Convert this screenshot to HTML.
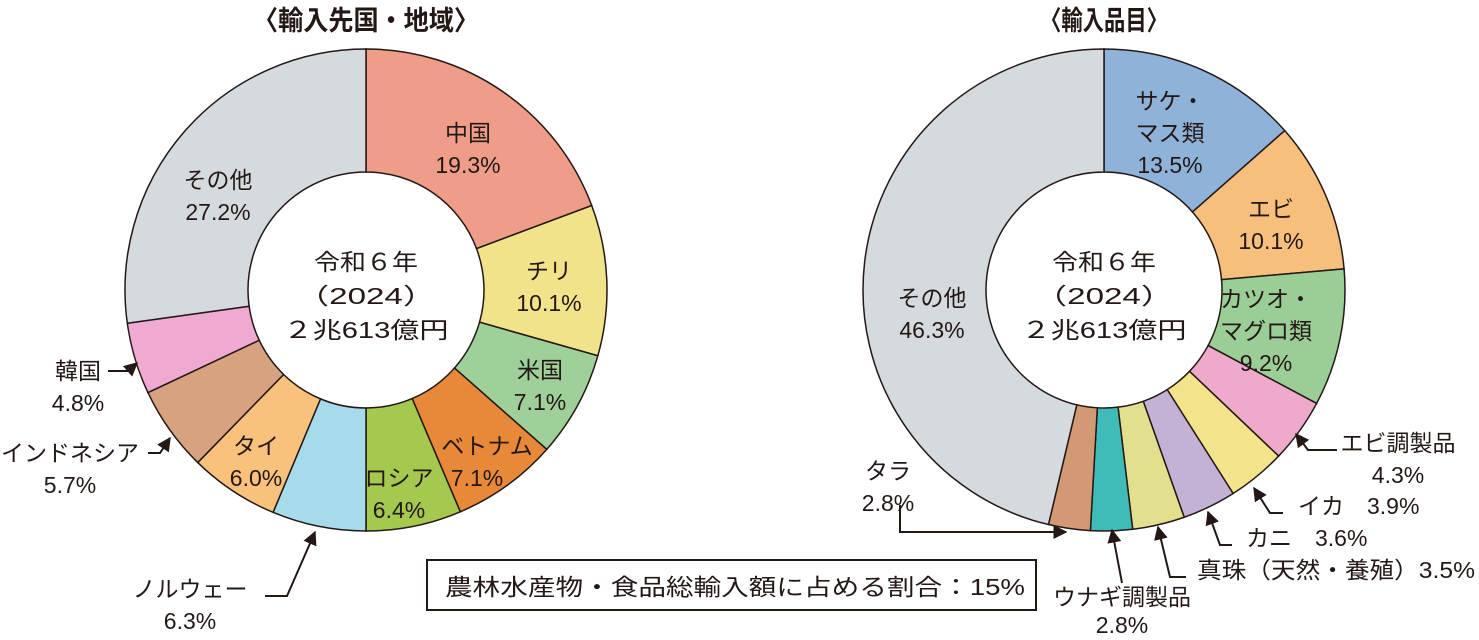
<!DOCTYPE html>
<html><head><meta charset="utf-8"><style>
body{margin:0;background:#fff}
svg text{font-family:"Liberation Sans","Noto Sans CJK JP",sans-serif;fill:#231815;font-size:23px}
</style></head><body>
<svg id="s" width="1479" height="635" viewBox="0 0 1479 635" xmlns="http://www.w3.org/2000/svg">
<defs><marker id="ar" viewBox="0 0 10 10" refX="9" refY="5" markerWidth="7" markerHeight="7" orient="auto"><path d="M0,0 L10,5 L0,10 z" fill="#231815"/></marker></defs>
<g id="g"></g>
<text x="366" y="30" text-anchor="middle" style="font-size:27px;font-weight:bold" textLength="226" lengthAdjust="spacingAndGlyphs">〈輸入先国・地域〉</text>
<text x="1104" y="30" text-anchor="middle" style="font-size:27px;font-weight:bold" textLength="128" lengthAdjust="spacingAndGlyphs">〈輸入品目〉</text>
<g text-anchor="middle">
<text x="366" y="270" textLength="104" lengthAdjust="spacingAndGlyphs">令和６年</text><text x="366" y="304" textLength="140" lengthAdjust="spacingAndGlyphs">（2024）</text><text x="366" y="338" textLength="165" lengthAdjust="spacingAndGlyphs">２兆613億円</text>
<text x="1104" y="270" textLength="104" lengthAdjust="spacingAndGlyphs">令和６年</text><text x="1104" y="304" textLength="140" lengthAdjust="spacingAndGlyphs">（2024）</text><text x="1104" y="338" textLength="165" lengthAdjust="spacingAndGlyphs">２兆613億円</text>
<text x="468" y="141">中国</text><text x="468" y="173">19.3%</text>
<text x="549" y="279">チリ</text><text x="549" y="311">10.1%</text>
<text x="540" y="378">米国</text><text x="540" y="410">7.1%</text>
<text x="487" y="454">ベトナム</text><text x="477" y="486">7.1%</text>
<text x="399" y="486">ロシア</text><text x="399" y="518">6.4%</text>
<text x="256" y="454">タイ</text><text x="256" y="486">6.0%</text>
<text x="218" y="188">その他</text><text x="218" y="220">27.2%</text>
<text x="78" y="379">韓国</text><text x="78" y="411">4.8%</text>
<text x="70" y="461">インドネシア</text><text x="70" y="493">5.7%</text>
<text x="190" y="597">ノルウェー</text><text x="190" y="629">6.3%</text>
<text x="1170" y="109">サケ・</text><text x="1170" y="141">マス類</text><text x="1170" y="173">13.5%</text>
<text x="1271" y="217">エビ</text><text x="1271" y="249">10.1%</text>
<text x="1266" y="307">カツオ・</text><text x="1266" y="339">マグロ類</text><text x="1266" y="371">9.2%</text>
<text x="932" y="306">その他</text><text x="932" y="338">46.3%</text>
<text x="1398" y="451">エビ調製品</text><text x="1398" y="483">4.3%</text>
<text x="888" y="479">タラ</text><text x="888" y="511">2.8%</text>
<text x="1122" y="605">ウナギ調製品</text><text x="1122" y="633">2.8%</text>
</g>
<text x="1298" y="514">イカ　3.9%</text>
<text x="1246" y="546">カニ　3.6%</text>
<text x="1197" y="578" textLength="278" lengthAdjust="spacingAndGlyphs">真珠（天然・養殖）3.5%</text>
<rect x="427" y="560" width="609" height="50" fill="#fff" stroke="#231815" stroke-width="2"/>
<text x="735" y="595" text-anchor="middle" textLength="580" lengthAdjust="spacingAndGlyphs">農林水産物・食品総輸入額に占める割合：15%</text>
<g fill="none" stroke="#231815" stroke-width="2" marker-end="url(#ar)">
<path d="M108,371 L128,371 L137,363"/>
<path d="M148,453 L160,453 L170,438"/>
<path d="M265,596 L287,596 L315,532"/>
<path d="M1337,450 L1308,450 L1296,434"/>
<path d="M1283,513 L1270,513 L1254,488"/>
<path d="M1232,545 L1220,545 L1208,512"/>
<path d="M1186,577 L1170,577 L1158,527"/>
<path d="M1122,583 L1112,530"/>
<path d="M900,505 L900,532 L1066,532"/>
</g>
</svg>
<script>
function donut(cx,cy,R,r,data){
 var g=document.getElementById('g'),a=-Math.PI/2,ns="http://www.w3.org/2000/svg";
 data.forEach(function(d){
  var b=a+d[0]/100*2*Math.PI,l=(b-a)>Math.PI?1:0;
  var p="M"+(cx+R*Math.cos(a))+","+(cy+R*Math.sin(a))+" A"+R+","+R+" 0 "+l+" 1 "+(cx+R*Math.cos(b))+","+(cy+R*Math.sin(b))+" L"+(cx+r*Math.cos(b))+","+(cy+r*Math.sin(b))+" A"+r+","+r+" 0 "+l+" 0 "+(cx+r*Math.cos(a))+","+(cy+r*Math.sin(a))+" Z";
  var e=document.createElementNS(ns,"path");e.setAttribute("d",p);e.setAttribute("fill",d[1]);e.setAttribute("stroke","#231815");e.setAttribute("stroke-width","1.5");g.appendChild(e);a=b;});
}
donut(366,290,241,118,[[19.3,"#ee9e88"],[10.1,"#f1e38a"],[7.1,"#9fd09a"],[7.1,"#e8893a"],[6.4,"#a4c94e"],[6.3,"#a6dbec"],[6.0,"#f8c27d"],[5.7,"#d6a280"],[4.8,"#eeaad0"],[27.2,"#d4dadd"]]);
donut(1104,290,241,118,[[13.5,"#8fb2d8"],[10.1,"#f6c07c"],[9.2,"#9bce96"],[4.3,"#eeaacb"],[3.9,"#f3e38a"],[3.6,"#c3b1d6"],[3.5,"#e2e08f"],[2.8,"#3fbcb8"],[2.8,"#d29a74"],[46.3,"#d4dadd"]]);
</script>
</body></html>
